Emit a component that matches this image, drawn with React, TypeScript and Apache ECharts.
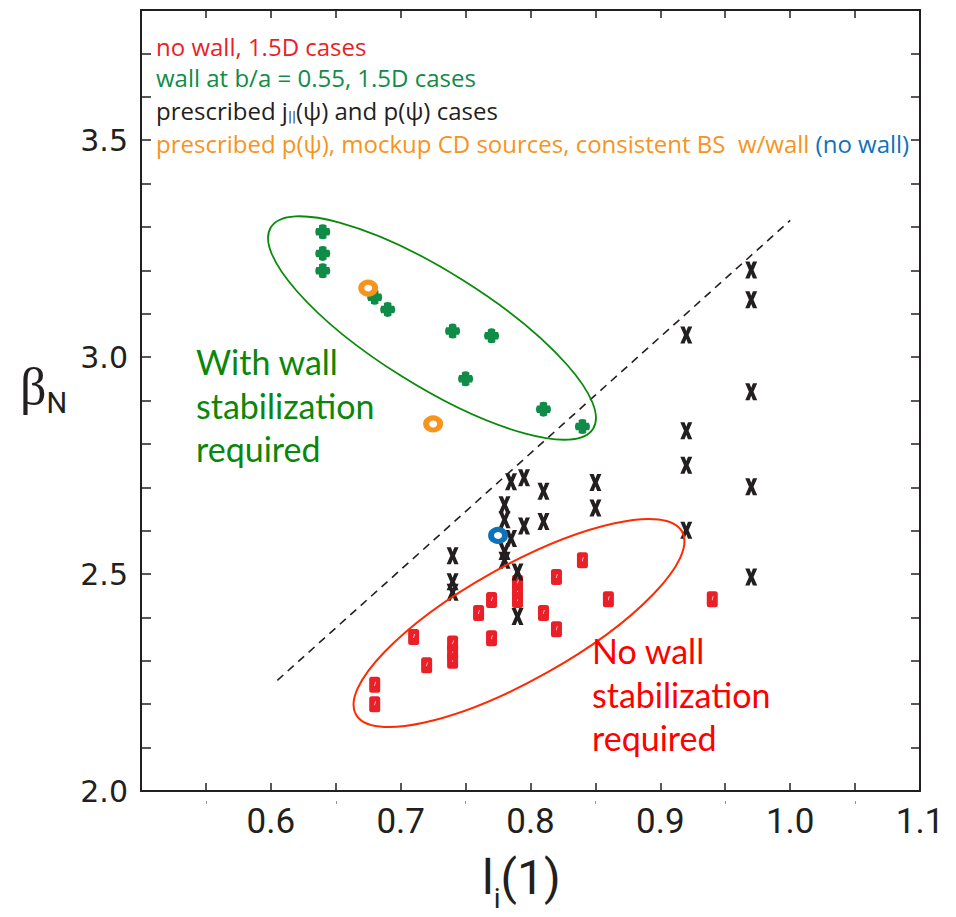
import React, { useEffect, useRef } from "react";
import * as echarts from "echarts";

// ---- data ----
const xRange = [0.5, 1.1];
const yRange = [2.0, 3.8];

// no wall, 1.5D cases (red)
const noWallCases: [number, number][] = [
  [0.68, 2.245], [0.68, 2.2], [0.71, 2.355], [0.72, 2.29],
  [0.74, 2.34], [0.74, 2.32], [0.74, 2.3], [0.76, 2.41],
  [0.77, 2.44], [0.77, 2.352], [0.79, 2.48], [0.79, 2.46],
  [0.79, 2.44], [0.81, 2.41], [0.82, 2.493], [0.82, 2.373],
  [0.84, 2.532], [0.86, 2.442], [0.94, 2.442],
];

// wall at b/a = 0.55, 1.5D cases (green)
const wallCases: [number, number][] = [
  [0.64, 3.289], [0.64, 3.239], [0.64, 3.199], [0.68, 3.138],
  [0.69, 3.11], [0.74, 3.06], [0.77, 3.049], [0.75, 2.95],
  [0.81, 2.88], [0.84, 2.84],
];

// prescribed j||(psi) and p(psi) cases (black)
const prescribedCases: [number, number][] = [
  [0.74, 2.542], [0.74, 2.482], [0.74, 2.458],
  [0.78, 2.66], [0.78, 2.625], [0.78, 2.552], [0.78, 2.532],
  [0.785, 2.713], [0.785, 2.582],
  [0.79, 2.505], [0.79, 2.402],
  [0.795, 2.722], [0.795, 2.611],
  [0.81, 2.691], [0.81, 2.621],
  [0.85, 2.711], [0.85, 2.652],
  [0.92, 3.051], [0.92, 2.83], [0.92, 2.751], [0.92, 2.601],
  [0.97, 3.201], [0.97, 3.132], [0.97, 2.92], [0.97, 2.701], [0.97, 2.493],
];

// prescribed p(psi), mockup CD sources, consistent BS
const mockupWall: [number, number][] = [[0.675, 3.159], [0.725, 2.846]];
const mockupNoWall: [number, number][] = [[0.775, 2.589]];

// dashed boundary
const boundaryLine: [number, number][] = [[0.605, 2.255], [1.0, 3.315]];

// small marks below the x axis
const halfTicks = [0.55, 0.65, 0.75, 0.85, 0.95, 1.05];

const legendLines = [
  "no wall, 1.5D cases",
  "wall at b/a = 0.55, 1.5D cases",
  "prescribed j",
  "(ψ) and p(ψ) cases",
  "prescribed p(ψ), mockup CD sources, consistent BS  w/wall ",
  "(no wall)",
];

// ---- styles ----
const INK = "#231f20";
const RED = "#ea1f27";
const GREEN = "#0f8c47";
const ORANGE = "#f7941d";
const BLUE = "#0f72b9";

const RED_SYMBOL =
  "path://M2.5,0H8.5Q11,0 11,2.5V13.5Q11,16 8.5,16H2.5Q0,16 0,13.5V2.5Q0,0 2.5,0ZM6,5L5,9L5.7,9L6.7,5Z";
const GREEN_SYMBOL =
  "path://M3.5,1Q7,-1 10.5,1L10.5,3.5L13,3.5Q15,7 13,10.5L10.5,10.5L10.5,13Q7,15 3.5,13L3.5,10.5L1,10.5Q-1,7 1,3.5L3.5,3.5Z";
const X_SYMBOL =
  "path://M0,0H4.3L6,4.2L7.7,0H12L8.3,8L12,16H7.7L6,11.8L4.3,16H0L3.7,8Z";

const LEG_FONT = "Open Sans";
const LEG_SIZE = 24;

export default function App() {
  const ref = useRef<HTMLDivElement>(null);

  useEffect(() => {
    if (!ref.current) return;
    const chart = echarts.init(ref.current, null, { renderer: "svg" });

    const axisLine = { onZero: false, lineStyle: { color: INK, width: 2 } };

    const option: any = {
      animation: false,
      backgroundColor: "#ffffff",
      grid: { left: 141, right: 36, top: 10, bottom: 126 },
      xAxis: [
        {
          type: "value",
          min: xRange[0],
          max: xRange[1],
          interval: 0.05,
          position: "bottom",
          axisLine,
          axisTick: { inside: true, length: 8, lineStyle: { color: INK, width: 1.5 } },
          axisLabel: {
            margin: 13,
            color: INK,
            fontFamily: "Roboto",
            fontSize: 35,
            formatter: (v: number) => {
              const r = Math.round(v * 100);
              if (r % 10 !== 0 || r < 60) return "";
              return (r / 100).toFixed(1);
            },
          },
          splitLine: { show: false },
        },
        {
          type: "value",
          min: xRange[0],
          max: xRange[1],
          interval: 0.05,
          position: "top",
          axisLine,
          axisTick: { inside: true, length: 8, lineStyle: { color: INK, width: 1.5 } },
          axisLabel: { show: false },
          splitLine: { show: false },
        },
        {
          type: "value",
          min: xRange[0],
          max: xRange[1],
          position: "bottom",
          offset: 10,
          axisLine: { show: false },
          axisTick: {
            show: true,
            length: 3,
            customValues: halfTicks,
            lineStyle: { color: "#9a9a9a", width: 1 },
          },
          axisLabel: { show: false },
          splitLine: { show: false },
        },
      ],
      yAxis: [
        {
          type: "value",
          min: yRange[0],
          max: yRange[1],
          interval: 0.1,
          position: "left",
          axisLine,
          axisTick: { inside: true, length: 10, lineStyle: { color: INK, width: 1.5 } },
          axisLabel: {
            margin: 13,
            color: INK,
            fontFamily: "DejaVu Sans",
            fontSize: 30,
            formatter: (v: number) => {
              const r = Math.round(v * 10);
              return r % 5 === 0 ? (r / 10).toFixed(1) : "";
            },
          },
          splitLine: { show: false },
        },
        {
          type: "value",
          min: yRange[0],
          max: yRange[1],
          interval: 0.1,
          position: "right",
          axisLine,
          axisTick: { inside: true, length: 9, lineStyle: { color: INK, width: 1.5 } },
          axisLabel: { show: false },
          splitLine: { show: false },
        },
      ],
      series: [
        {
          type: "line",
          data: boundaryLine,
          symbol: "none",
          silent: true,
          lineStyle: { color: INK, width: 1.6, type: [8, 6] },
          z: 1,
        },
        {
          type: "scatter",
          name: "no wall",
          data: noWallCases,
          symbol: RED_SYMBOL,
          symbolSize: [11, 16],
          itemStyle: { color: RED, opacity: 1 },
        },
        {
          type: "scatter",
          name: "prescribed",
          data: prescribedCases,
          symbol: X_SYMBOL,
          symbolSize: [12, 17],
          itemStyle: { color: INK, opacity: 1 },
        },
        {
          type: "scatter",
          name: "wall",
          data: wallCases,
          symbol: GREEN_SYMBOL,
          symbolSize: [15, 15],
          itemStyle: { color: GREEN, opacity: 1 },
        },
        {
          type: "scatter",
          name: "mockup wall",
          data: mockupWall,
          symbol: "circle",
          symbolSize: [14, 12],
          itemStyle: { color: "none", borderColor: ORANGE, borderWidth: 5.5, opacity: 1 },
        },
        {
          type: "scatter",
          name: "mockup no wall",
          data: mockupNoWall,
          symbol: "circle",
          symbolSize: [14, 12],
          itemStyle: { color: "none", borderColor: BLUE, borderWidth: 5.5, opacity: 1 },
        },
      ],
      graphic: [
        // ellipses
        {
          type: "ellipse",
          x: 432,
          y: 328,
          rotation: -0.5585,
          shape: { cx: 0, cy: 0, rx: 190, ry: 57 },
          style: { fill: "none", stroke: "#0a8a0a", lineWidth: 1.8 },
          z: 50,
        },
        {
          type: "ellipse",
          x: 519,
          y: 623,
          rotation: 0.511,
          shape: { cx: 0, cy: 0, rx: 187, ry: 57 },
          style: { fill: "none", stroke: "#ff2a00", lineWidth: 2 },
          z: 50,
        },
        // legend
        {
          type: "text",
          x: 156,
          y: 46,
          style: {
            text: legendLines[0],
            fill: RED,
            fontFamily: LEG_FONT,
            fontSize: LEG_SIZE,
            verticalAlign: "middle",
            textVerticalAlign: "middle",
          },
          z: 60,
        },
        {
          type: "text",
          x: 156,
          y: 77.5,
          style: {
            text: legendLines[1],
            fill: GREEN,
            fontFamily: LEG_FONT,
            fontSize: LEG_SIZE,
            verticalAlign: "middle",
            textVerticalAlign: "middle",
          },
          z: 60,
        },
        {
          type: "text",
          x: 156,
          y: 110,
          style: {
            text: `{a|${legendLines[2]}}{s|||}{a|${legendLines[3]}}`,
            fill: INK,
            fontFamily: LEG_FONT,
            fontSize: LEG_SIZE,
            verticalAlign: "middle",
            textVerticalAlign: "middle",
            rich: {
              a: { fontFamily: LEG_FONT, fontSize: LEG_SIZE, fill: INK, color: INK, lineHeight: 26 },
              s: {
                fontFamily: "DejaVu Sans",
                fontSize: 12,
                fill: INK,
                color: INK,
                lineHeight: 8,
                verticalAlign: "bottom",
              },
            },
          },
          z: 60,
        },
        {
          type: "text",
          x: 156,
          y: 143,
          style: {
            text: `{o|${legendLines[4]}}{b|${legendLines[5]}}`,
            fill: ORANGE,
            fontFamily: LEG_FONT,
            fontSize: LEG_SIZE,
            verticalAlign: "middle",
            textVerticalAlign: "middle",
            rich: {
              o: { fontFamily: LEG_FONT, fontSize: LEG_SIZE, fill: ORANGE, color: ORANGE },
              b: { fontFamily: LEG_FONT, fontSize: LEG_SIZE, fill: BLUE, color: BLUE },
            },
          },
          z: 60,
        },
        // annotations
        {
          type: "text",
          x: 196,
          y: 340,
          style: {
            text: "With wall\nstabilization\nrequired",
            fill: "#0a870a",
            fontFamily: "Lato",
            fontSize: 34,
            lineHeight: 43.5,
            verticalAlign: "top",
            textVerticalAlign: "top",
          },
          z: 60,
        },
        {
          type: "text",
          x: 592,
          y: 629,
          style: {
            text: "No wall\nstabilization\nrequired",
            fill: "#ff0000",
            fontFamily: "Lato",
            fontSize: 34,
            lineHeight: 43.5,
            verticalAlign: "top",
            textVerticalAlign: "top",
          },
          z: 60,
        },
        // y axis title
        {
          type: "text",
          x: 20,
          y: 386,
          style: {
            text: "{b|β}{n|N}",
            fill: INK,
            verticalAlign: "middle",
            textVerticalAlign: "middle",
            rich: {
              b: { fontFamily: "Liberation Serif", fontSize: 52, lineHeight: 62, fill: INK, color: INK },
              n: {
                fontFamily: "Roboto",
                fontSize: 29,
                lineHeight: 20,
                verticalAlign: "bottom",
                fill: INK,
                color: INK,
              },
            },
          },
          z: 60,
        },
        // x axis title
        {
          type: "text",
          x: 482,
          y: 877,
          style: {
            text: "{m|l}{s|i}{m|(1)}",
            fill: INK,
            verticalAlign: "middle",
            textVerticalAlign: "middle",
            rich: {
              m: { fontFamily: "Roboto", fontSize: 48, lineHeight: 70, fill: INK, color: INK },
              s: {
                fontFamily: "Roboto",
                fontSize: 28,
                lineHeight: 14,
                verticalAlign: "bottom",
                fill: INK,
                color: INK,
              },
            },
          },
          z: 60,
        },
      ],
    };

    chart.setOption(option);
    return () => chart.dispose();
  }, []);

  return (
    <div
      ref={ref}
      style={{ position: "absolute", left: 0, top: 0, width: 956, height: 917, background: "#fff" }}
    />
  );
}
